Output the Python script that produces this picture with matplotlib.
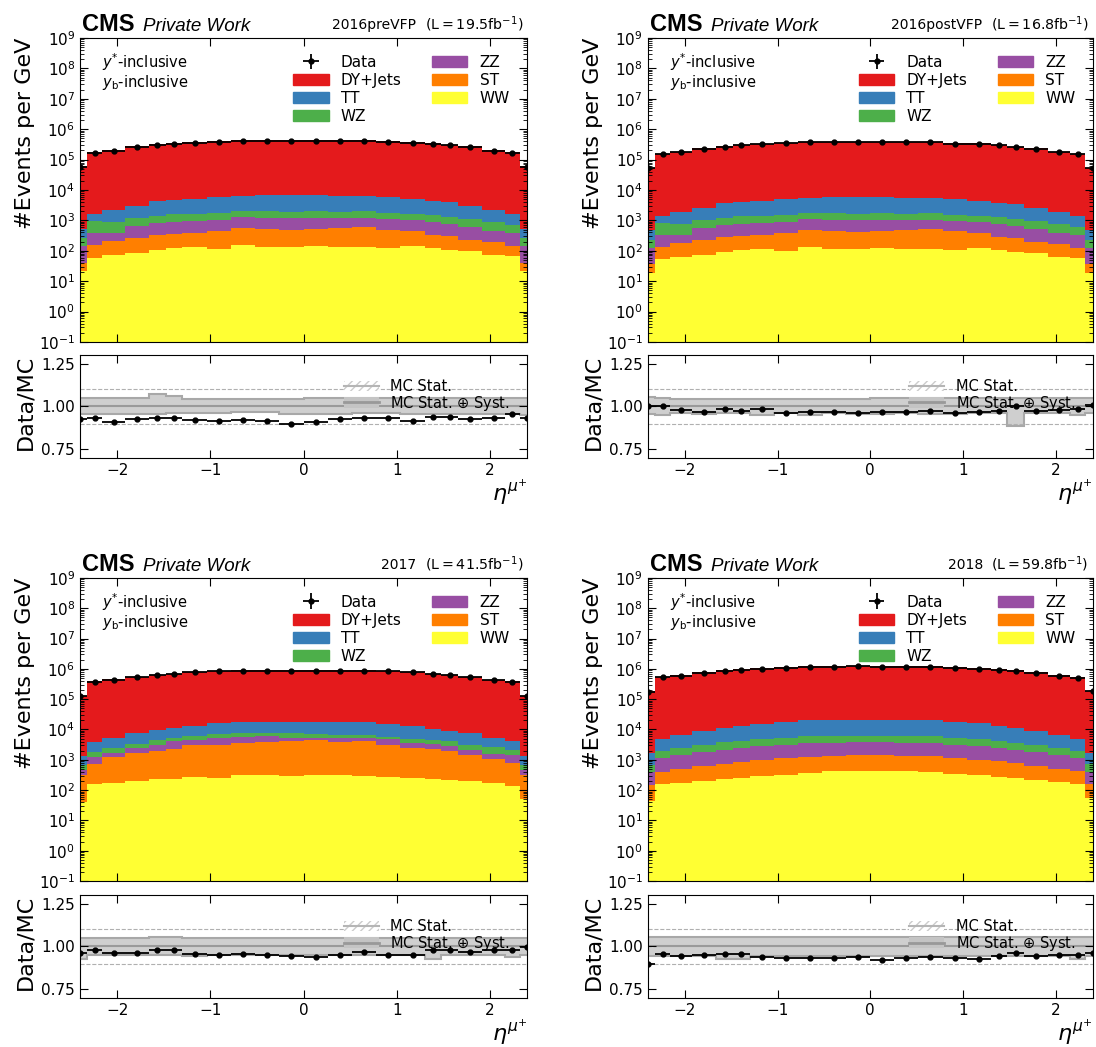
import numpy as np
import matplotlib
matplotlib.use("Agg")
import matplotlib.pyplot as plt
from matplotlib.patches import Patch
from matplotlib.lines import Line2D
from matplotlib.offsetbox import TextArea, HPacker, AnchoredOffsetbox
from matplotlib.ticker import LogLocator, NullFormatter, FormatStrFormatter

plt.rcParams['font.family'] = ['DejaVu Sans']
plt.rcParams['mathtext.fontset'] = 'dejavusans'

# eta bin edges (outermost bins run past the axis range)
ETA_EDGES = [-2.48, -2.32, -2.16, -1.92, -1.66, -1.48, -1.3, -1.04, -0.78, -0.52, -0.26, 0.0,
             0.26, 0.52, 0.78, 1.04, 1.3, 1.48, 1.66, 1.92, 2.16, 2.32, 2.48]

PROCESSES = ['DY+Jets', 'TT', 'WZ', 'ZZ', 'ST', 'WW']
COLORS = {'DY+Jets': '#e41a1c', 'TT': '#377eb8', 'WZ': '#4daf4a',
          'ZZ': '#984ea3', 'ST': '#ff7f00', 'WW': '#ffff33'}

# ---- 2016preVFP
DY_16PRE = [6.15e4, 1.78e5, 2.11e5, 2.67e5, 3.10e5, 3.53e5, 3.86e5, 4.08e5, 4.35e5, 4.38e5, 4.46e5,
            4.41e5, 4.35e5, 4.31e5, 3.99e5, 3.88e5, 3.50e5, 3.08e5, 2.67e5, 2.06e5, 1.73e5, 6.15e4]
TT_16PRE = [275, 720, 1250, 1830, 3020, 3060, 3340, 3900, 4420, 4940, 5050,
            4940, 4530, 4420, 3900, 3340, 2900, 2590, 1920, 1250, 970, 275]
WZ_16PRE = [118, 560, 510, 520, 555, 680, 720, 800, 760, 820, 770,
            880, 770, 880, 720, 670, 610, 515, 480, 460, 310, 118]
ZZ_16PRE = [106, 240, 185, 385, 495, 540, 560, 560, 720, 690, 670,
            630, 600, 570, 580, 560, 560, 475, 367, 245, 250, 106]
ST_16PRE = [19, 90, 131, 181, 232, 237, 261, 323, 420, 411, 368,
            400, 441, 471, 377, 300, 217, 192, 133, 121, 75, 19]
WW_16PRE = [22, 60, 74, 84, 108, 123, 129, 117, 150, 129, 132,
            140, 129, 129, 123, 140, 123, 108, 100, 74, 65, 22]
DATA_16PRE = [5.7e4, 1.67e5, 1.94e5, 2.5e5, 2.93e5, 3.33e5, 3.6e5, 3.78e5, 4.08e5, 4.08e5, 4.08e5,
              4.08e5, 4.08e5, 4.08e5, 3.78e5, 3.6e5, 3.33e5, 2.93e5, 2.5e5, 1.94e5, 1.67e5, 5.8e4]
RATIO_16PRE = [0.924, 0.93, 0.912, 0.926, 0.934, 0.93, 0.92, 0.914, 0.923, 0.917, 0.90,
               0.911, 0.925, 0.933, 0.933, 0.915, 0.94, 0.94, 0.926, 0.934, 0.957, 0.93]
UP_16PRE = [0.048, 0.048, 0.048, 0.048, 0.074, 0.058, 0.045, 0.045, 0.045, 0.045, 0.045,
            0.048, 0.048, 0.048, 0.048, 0.048, 0.048, 0.048, 0.048, 0.048, 0.048, 0.048]
DN_16PRE = [0.045, 0.045, 0.045, 0.045, 0.045, 0.04, 0.04, 0.04, 0.035, 0.035, 0.045,
            0.045, 0.045, 0.04, 0.04, 0.045, 0.045, 0.045, 0.045, 0.045, 0.045, 0.05]

# ---- 2016postVFP
DY_16POST = [5.3e4, 1.53e5, 1.81e5, 2.30e5, 2.67e5, 3.04e5, 3.32e5, 3.51e5, 3.74e5, 3.77e5, 3.84e5,
             3.79e5, 3.74e5, 3.71e5, 3.43e5, 3.34e5, 3.01e5, 2.65e5, 2.30e5, 1.77e5, 1.49e5, 5.3e4]
TT_16POST = [240, 620, 1080, 1570, 2600, 2630, 2870, 3350, 3800, 4250, 4340,
             4250, 3900, 3800, 3350, 2870, 2500, 2230, 1650, 1080, 835, 240]
WZ_16POST = [100, 480, 440, 450, 480, 585, 620, 690, 655, 705, 660,
             760, 660, 760, 620, 575, 525, 445, 415, 395, 265, 100]
ZZ_16POST = [90, 205, 160, 330, 425, 465, 480, 480, 620, 595, 575,
             540, 515, 490, 500, 480, 480, 410, 315, 210, 215, 90]
ST_16POST = [17, 78, 113, 156, 200, 204, 225, 278, 360, 353, 316,
             344, 380, 405, 325, 258, 187, 165, 114, 104, 65, 17]
WW_16POST = [19, 52, 64, 72, 93, 106, 111, 100, 129, 111, 114,
             120, 111, 111, 106, 120, 106, 93, 86, 64, 56, 19]
DATA_16POST = [5.35e4, 1.545e5, 1.79e5, 2.26e5, 2.67e5, 3.0e5, 3.32e5, 3.42e5, 3.67e5, 3.72e5, 3.74e5,
               3.73e5, 3.67e5, 3.67e5, 3.34e5, 3.28e5, 2.97e5, 2.68e5, 2.27e5, 1.76e5, 1.48e5, 5.4e4]
RATIO_16POST = [1.0, 1.003, 0.98, 0.97, 0.986, 0.976, 0.986, 0.96, 0.968, 0.97, 0.96,
                0.97, 0.966, 0.974, 0.96, 0.97, 0.976, 1.0, 0.974, 0.982, 0.986, 1.01]
UP_16POST = [0.055, 0.048, 0.045, 0.045, 0.045, 0.045, 0.045, 0.045, 0.045, 0.045, 0.045,
             0.048, 0.048, 0.048, 0.048, 0.048, 0.048, 0.048, 0.048, 0.048, 0.048, 0.048]
DN_16POST = [0.045, 0.05, 0.04, 0.045, 0.04, 0.04, 0.05, 0.04, 0.05, 0.04, 0.045,
             0.045, 0.04, 0.045, 0.045, 0.04, 0.04, 0.115, 0.04, 0.04, 0.05, 0.04]

# ---- 2017
DY_17 = [1.30e5, 3.86e5, 4.42e5, 5.45e5, 6.32e5, 6.84e5, 7.8e5, 8.45e5, 8.8e5, 8.85e5, 8.93e5,
         8.98e5, 8.88e5, 8.73e5, 8.45e5, 7.85e5, 6.85e5, 6.33e5, 5.42e5, 4.34e5, 3.84e5, 1.30e5]
TT_17 = [680, 2080, 2930, 3960, 5070, 6100, 7200, 8800, 9700, 10100, 10500,
         10100, 10300, 10300, 9000, 8200, 5870, 4700, 4220, 2640, 2030, 680]
WZ_17 = [210, 580, 780, 970, 1250, 1200, 1570, 1600, 1700, 1800, 2000,
         1600, 1500, 1400, 900, 1300, 1160, 1220, 1110, 1060, 660, 210]
ZZ_17 = [144, 490, 450, 780, 1220, 1760, 1400, 2370, 2000, 2100, 1300,
         970, 1400, 1300, 1620, 1230, 1040, 970, 590, 560, 605, 144]
ST_17 = [266, 588, 1065, 1500, 1730, 2100, 2760, 2780, 3390, 3580, 3810,
         4110, 3590, 3810, 2910, 2220, 1990, 1690, 1290, 865, 670, 254]
WW_17 = [40, 162, 175, 194, 226, 238, 270, 250, 306, 322, 291,
         322, 306, 291, 270, 250, 238, 220, 194, 175, 136, 52]
DATA_17 = [1.26e5, 3.8e5, 4.3e5, 5.3e5, 6.3e5, 6.8e5, 7.6e5, 8.2e5, 8.6e5, 8.6e5, 8.6e5,
           8.6e5, 8.6e5, 8.6e5, 8.2e5, 7.6e5, 6.8e5, 6.3e5, 5.3e5, 4.3e5, 3.8e5, 1.3e5]
RATIO_17 = [0.96, 0.978, 0.962, 0.96, 0.982, 0.978, 0.958, 0.952, 0.958, 0.952, 0.944,
            0.94, 0.95, 0.966, 0.952, 0.952, 0.978, 0.982, 0.966, 0.98, 0.98, 0.996]
UP_17 = [0.052, 0.052, 0.052, 0.052, 0.055, 0.055, 0.052, 0.052, 0.052, 0.052, 0.052,
         0.052, 0.052, 0.052, 0.052, 0.052, 0.052, 0.052, 0.052, 0.052, 0.052, 0.052]
DN_17 = [0.07, 0.05, 0.05, 0.05, 0.05, 0.05, 0.055, 0.05, 0.05, 0.05, 0.05,
         0.05, 0.05, 0.05, 0.05, 0.05, 0.075, 0.05, 0.05, 0.05, 0.06, 0.05]

# ---- 2018
DY_18 = [1.9e5, 5.4e5, 6.2e5, 7.6e5, 8.9e5, 9.7e5, 1.08e6, 1.17e6, 1.23e6, 1.25e6, 1.26e6,
         1.26e6, 1.25e6, 1.23e6, 1.17e6, 1.08e6, 9.7e5, 8.9e5, 7.6e5, 6.2e5, 5.4e5, 1.9e5]
TT_18 = [1000, 3000, 4200, 5700, 7400, 8900, 10500, 12800, 14100, 14700, 15000,
         14800, 14600, 14300, 13000, 11000, 9000, 7200, 5800, 4200, 3100, 1000]
WZ_18 = [300, 800, 1000, 1300, 1600, 1800, 2000, 2300, 2400, 2500, 2500,
         2500, 2450, 2400, 2200, 2000, 1800, 1550, 1300, 1050, 800, 300]
ZZ_18 = [250, 700, 900, 1200, 1400, 1600, 1800, 2000, 2200, 2300, 2300,
         2300, 2250, 2200, 2000, 1800, 1600, 1400, 1200, 900, 700, 250]
ST_18 = [100, 250, 330, 430, 520, 600, 700, 800, 900, 950, 1000,
         1000, 950, 900, 800, 700, 600, 520, 430, 330, 250, 100]
WW_18 = [45, 160, 175, 200, 230, 260, 290, 320, 380, 420, 430,
         440, 420, 390, 350, 310, 280, 250, 210, 185, 165, 55]
DATA_18 = [1.73e5, 5.21e5, 5.9e5, 7.3e5, 8.62e5, 9.4e5, 1.025e6, 1.11e6, 1.168e6, 1.185e6, 1.199e6,
           1.184e6, 1.187e6, 1.173e6, 1.11e6, 1.019e6, 9.3e5, 8.67e5, 7.26e5, 5.96e5, 5.19e5, 1.85e5]
RATIO_18 = [0.90, 0.956, 0.942, 0.95, 0.956, 0.956, 0.936, 0.934, 0.934, 0.932, 0.936,
            0.924, 0.934, 0.938, 0.934, 0.93, 0.946, 0.962, 0.944, 0.95, 0.952, 0.964]
UP_18 = [0.055] * 22
DN_18 = [0.055, 0.055, 0.055, 0.055, 0.07, 0.07, 0.055, 0.055, 0.055, 0.055, 0.055,
         0.055, 0.055, 0.055, 0.055, 0.055, 0.055, 0.055, 0.055, 0.055, 0.075, 0.055]

MCSTAT_REL = [0.008, 0.004, 0.004, 0.003, 0.003, 0.003, 0.003, 0.003, 0.003, 0.003, 0.003,
              0.003, 0.003, 0.003, 0.003, 0.003, 0.003, 0.003, 0.003, 0.004, 0.004, 0.008]

PANELS = [
    ('2016preVFP', '19.5', (DY_16PRE, TT_16PRE, WZ_16PRE, ZZ_16PRE, ST_16PRE, WW_16PRE),
     DATA_16PRE, RATIO_16PRE, UP_16PRE, DN_16PRE),
    ('2016postVFP', '16.8', (DY_16POST, TT_16POST, WZ_16POST, ZZ_16POST, ST_16POST, WW_16POST),
     DATA_16POST, RATIO_16POST, UP_16POST, DN_16POST),
    ('2017', '41.5', (DY_17, TT_17, WZ_17, ZZ_17, ST_17, WW_17),
     DATA_17, RATIO_17, UP_17, DN_17),
    ('2018', '59.8', (DY_18, TT_18, WZ_18, ZZ_18, ST_18, WW_18),
     DATA_18, RATIO_18, UP_18, DN_18),
]

# axes placement in figure fractions
COLS = [(0.073, 0.408), (0.591, 0.406)]
ROWS = [(0.6734, 0.2903, 0.5626, 0.0984), (0.1585, 0.2895, 0.0468, 0.0984)]


def draw_panel(ax, rax, year, lumi, mc, data, ratio, up, dn):
    edges = np.array(ETA_EDGES)
    centers = 0.5 * (edges[1:] + edges[:-1])
    halfw = 0.5 * np.diff(edges)
    data = np.array(data)

    # stack from the bottom: WW, ST, ZZ, WZ, TT, DY
    cum = np.zeros(len(centers))
    for name, vals in reversed(list(zip(PROCESSES, mc))):
        top = cum + np.array(vals)
        ax.stairs(top, edges, baseline=np.maximum(cum, 1e-3), fill=True,
                  color=COLORS[name], lw=0)
        cum = top

    dat = ax.errorbar(centers, data, xerr=halfw, yerr=np.sqrt(data), fmt='o', color='k',
                      ms=3.5, lw=1.3, capsize=0)

    ax.set_yscale('log')
    ax.set_xlim(-2.4, 2.4)
    ax.set_ylim(1e-1, 1e9)
    ax.set_yticks([10.0 ** k for k in range(-1, 10)])
    ax.yaxis.set_minor_locator(LogLocator(base=10, subs=np.arange(2, 10), numticks=30))
    ax.yaxis.set_minor_formatter(NullFormatter())
    ax.set_xticks([-2, -1, 0, 1, 2])
    ax.tick_params(which='both', direction='in', top=True, right=True, labelbottom=False,
                   labelsize=11)
    ax.tick_params(which='major', length=6)
    ax.tick_params(which='minor', length=3)
    ax.set_ylabel('#Events per GeV', fontsize=16, loc='top')
    ax.yaxis.set_label_coords(-0.1, 1.0)

    handles = [dat] + [Patch(color=COLORS[n]) for n in PROCESSES]
    ax.legend(handles, ['Data'] + PROCESSES, ncol=2, loc='upper right',
              bbox_to_anchor=(0.975, 0.965), borderaxespad=0, frameon=False, fontsize=11,
              labelspacing=0.2, columnspacing=2.0, handlelength=2.3, handleheight=0.8)

    ax.text(0.05, 0.921, r'$y^{*}$-inclusive', transform=ax.transAxes, fontsize=10.5, va='center')
    ax.text(0.05, 0.852, r'$y_{\mathrm{b}}$-inclusive', transform=ax.transAxes, fontsize=10.5,
            va='center')

    cms = HPacker(children=[
        TextArea('CMS', textprops=dict(fontsize=17, weight='bold', family='Liberation Sans')),
        TextArea('Private Work', textprops=dict(fontsize=13.5, style='italic',
                                                family='Liberation Sans'))],
        sep=6, align='baseline', pad=0)
    ax.add_artist(AnchoredOffsetbox(loc='lower left', child=cms, pad=0, borderpad=0.15,
                                    bbox_to_anchor=(0.0, 1.0), bbox_transform=ax.transAxes,
                                    frameon=False))
    yr = HPacker(children=[
        TextArea(year, textprops=dict(fontsize=10)),
        TextArea(r'$(\mathrm{L=%sfb^{-1}})$' % lumi, textprops=dict(fontsize=10.3))],
        sep=6, align='baseline', pad=0)
    ax.add_artist(AnchoredOffsetbox(loc='lower right', child=yr, pad=0, borderpad=0.3,
                                    bbox_to_anchor=(1.0, 1.0), bbox_transform=ax.transAxes,
                                    frameon=False))

    # ratio panel
    ones = np.ones(len(centers))
    up = np.array(up)
    dn = np.array(dn)
    st = np.array(MCSTAT_REL)
    rax.stairs(ones + up, edges, baseline=ones - dn, fill=True, color='#cfcfcf', lw=0)
    rax.stairs(ones + up, edges, color='#a8a8a8', lw=1.5)
    rax.stairs(ones - dn, edges, color='#a8a8a8', lw=1.5)
    rax.stairs(ones + st, edges, baseline=ones - st, fill=True, facecolor='none',
               edgecolor='#dddddd', hatch='////', lw=0)
    rax.stairs(ones, edges, color='#9a9a9a', lw=1.5)
    for yv in (0.9, 1.1):
        rax.axhline(yv, color='#b0b0b0', ls='--', lw=0.8)

    rax.errorbar(centers, ratio, xerr=halfw, yerr=np.array(ratio) / np.sqrt(data), fmt='o',
                 color='k', ms=3.5, lw=1.3, capsize=0)

    rax.set_xlim(-2.4, 2.4)
    rax.set_ylim(0.7, 1.3)
    rax.set_yticks([0.75, 1.0, 1.25])
    rax.yaxis.set_major_formatter(FormatStrFormatter('%.2f'))
    rax.set_xticks([-2, -1, 0, 1, 2])
    rax.tick_params(which='both', direction='in', top=True, right=True, labelsize=11, length=6)
    rax.set_ylabel('Data/MC', fontsize=16, loc='top')
    rax.yaxis.set_label_coords(-0.1, 1.0)
    rax.set_xlabel(r'$\eta^{\mu^{+}}$', fontsize=16, loc='right', labelpad=-0.5)

    stat_h = (Patch(facecolor='white', edgecolor='#cccccc', hatch='////', lw=0),
              Line2D([], [], color='#b5b5b5', lw=1.5))
    syst_h = (Patch(facecolor='#c4c4c4', lw=0), Line2D([], [], color='#999999', lw=2))
    rax.legend([stat_h, syst_h], ['MC Stat.', r'MC Stat. $\oplus$ Syst.'], loc='upper right',
               bbox_to_anchor=(0.975, 0.82), borderaxespad=0, frameon=False, fontsize=10.5,
               labelspacing=-0.05, handlelength=2.4, handleheight=0.7, handletextpad=0.8)


fig = plt.figure(figsize=(10.96, 10.47), dpi=100)
for i, (year, lumi, mc, data, ratio, up, dn) in enumerate(PANELS):
    x0, w = COLS[i % 2]
    my, mh, ry, rh = ROWS[i // 2]
    ax = fig.add_axes([x0, my, w, mh])
    rax = fig.add_axes([x0, ry, w, rh])
    draw_panel(ax, rax, year, lumi, mc, data, ratio, up, dn)

fig.savefig('out.png', dpi=100)
